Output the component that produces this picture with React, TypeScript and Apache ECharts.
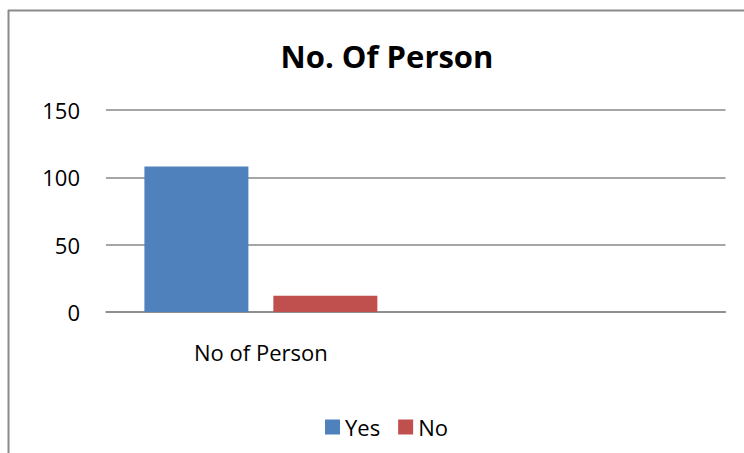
import React, { useEffect, useRef } from "react";
import * as echarts from "echarts";

const categories = ["No of Person", ""];
const yesValues = [108, null];
const noValues = [12, null];
const seriesNames = ["Yes", "No"];
const titleText = "No. Of Person";

export default function App() {
  const ref = useRef<HTMLDivElement>(null);
  useEffect(() => {
    if (!ref.current) return;
    const chart = echarts.init(ref.current, null, { renderer: "svg" });
    const font = "'Open Sans', sans-serif";
    chart.setOption({
      animation: false,
      backgroundColor: "#ffffff",
      textStyle: { fontFamily: font },
      title: {
        text: titleText,
        left: 382,
        textAlign: "center",
        top: 35,
        textStyle: { fontFamily: font, fontSize: 31, fontWeight: "bold", color: "#000" },
      },
      legend: {
        data: seriesNames,
        left: 320,
        top: 411,
        itemWidth: 15,
        itemHeight: 15,
        itemGap: 18,
        icon: "rect",
        textStyle: { fontFamily: font, fontSize: 22, color: "#000" },
      },
      grid: { left: 106, right: 18.5, top: 110, bottom: 141, containLabel: false },
      xAxis: {
        type: "category",
        data: categories,
        axisTick: { show: false },
        axisLine: { show: true, lineStyle: { color: "#888", width: 1.5 } },
        axisLabel: { margin: 29, fontFamily: font, fontSize: 22, color: "#000" },
      },
      yAxis: {
        type: "value",
        min: 0,
        max: 150,
        interval: 50,
        axisLine: { show: false },
        axisTick: { show: false },
        splitLine: { lineStyle: { color: "#888", width: 1.5 } },
        axisLabel: { margin: 26, fontFamily: font, fontSize: 22, color: "#000" },
      },
      series: [
        {
          name: seriesNames[0],
          type: "bar",
          data: yesValues,
          barWidth: 104,
          barGap: "24%",
          itemStyle: { color: "#4F81BD" },
        },
        {
          name: seriesNames[1],
          type: "bar",
          data: noValues,
          barWidth: 104,
          barGap: "24%",
          itemStyle: { color: "#C0504D" },
        },
      ],
      graphic: [
        {
          type: "line",
          shape: { x1: 8, y1: 10.5, x2: 744, y2: 10.5 },
          style: { stroke: "#8a8a8a", lineWidth: 2 },
          silent: true,
        },
        {
          type: "line",
          shape: { x1: 8.5, y1: 10, x2: 8.5, y2: 453 },
          style: { stroke: "#8a8a8a", lineWidth: 2 },
          silent: true,
        },
      ],
    });
    return () => chart.dispose();
  }, []);
  return (
    <div
      ref={ref}
      style={{ position: "fixed", left: 0, top: 0, width: 744, height: 453 }}
    />
  );
}
